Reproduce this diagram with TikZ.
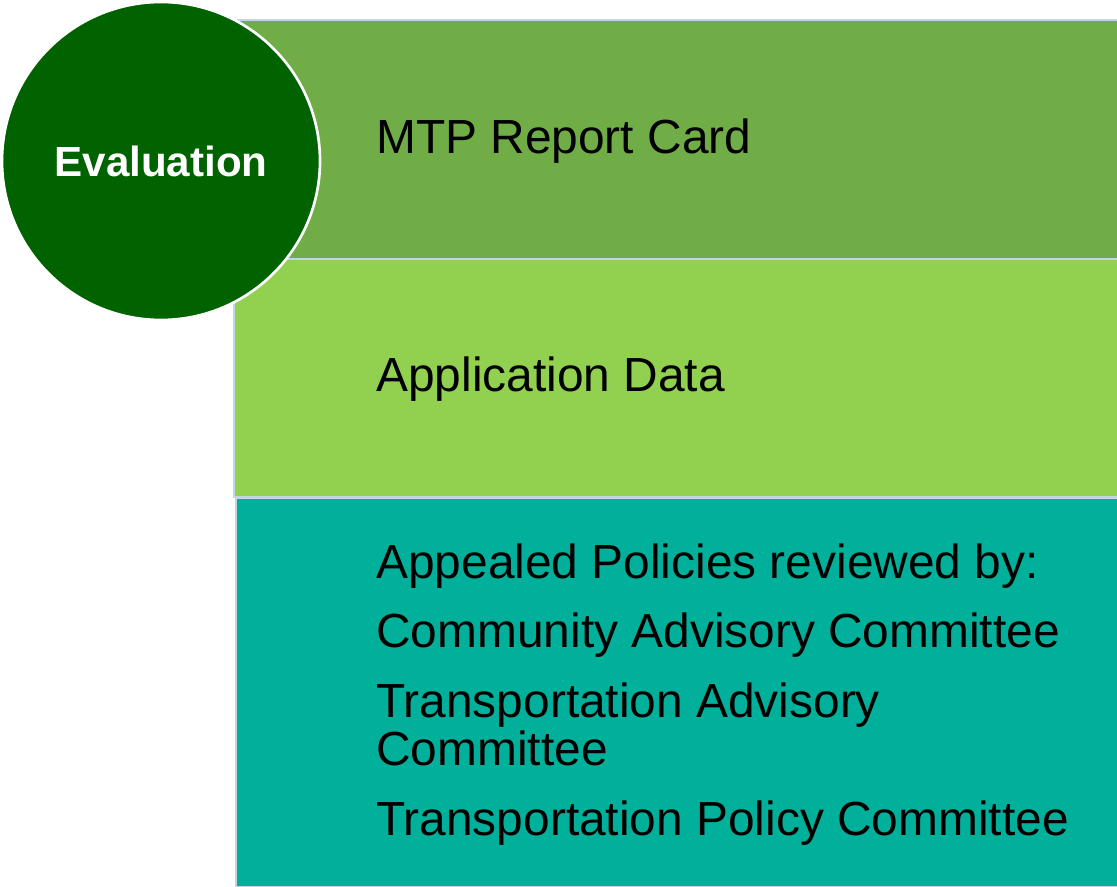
\documentclass[tikz,border=0pt]{standalone}
\usepackage{fontspec}
\setmainfont{Liberation Sans}
\usepackage{xcolor}
\usetikzlibrary{positioning}

\definecolor{cardgreen}{RGB}{112,173,71}
\definecolor{datagreen}{RGB}{146,208,80}
\definecolor{policyteal}{RGB}{0,176,155}
\definecolor{evalgreen}{RGB}{0,99,0}
\definecolor{edgeblue}{RGB}{196,212,228}

\begin{document}
\begin{tikzpicture}[x=0.75pt, y=-0.75pt,
        band/.style={draw=edgeblue, line width=1.2pt, inner sep=0pt, anchor=north west},
        item/.style={anchor=base west, inner sep=0pt, font=\fontsize{35.9}{36}\selectfont}]
            \useasboundingbox (0, 0) rectangle (1117, 887);

            \node[band, fill=cardgreen, minimum width=880*0.75pt, minimum height=239*0.75pt] (card) at (237, 19) {};
            \node[band, fill=datagreen, minimum width=884*0.75pt, minimum height=238*0.75pt] (data) at (233, 258) {};
            \node[band, fill=policyteal, minimum width=882*0.75pt, minimum height=389*0.75pt] (policies) at (235, 497) {};

            \node[circle, draw=white, line width=2pt, fill=evalgreen, minimum size=318*0.75pt, inner sep=0pt,
                  text=white, font=\bfseries\fontsize{31.6}{32}\selectfont] (eval) at (161, 161) {Evaluation};

            \node[item] (cardtext) at (376, 154) {MTP Report Card};
            \node[item] (datatext) at (376, 392) {Application Data};
            \node[item] (appealed) at (376, 578) {Appealed Policies reviewed by:};
            \node[item] (cac) at (376, 647) {Community Advisory Committee};
            \node[item] (tac) at (376, 717) {Transportation Advisory};
            \node[item] (tacwrap) at (376, 765) {Committee};
            \node[item] (tpc) at (376, 835) {Transportation Policy Committee};
        \end{tikzpicture}
\end{document}
